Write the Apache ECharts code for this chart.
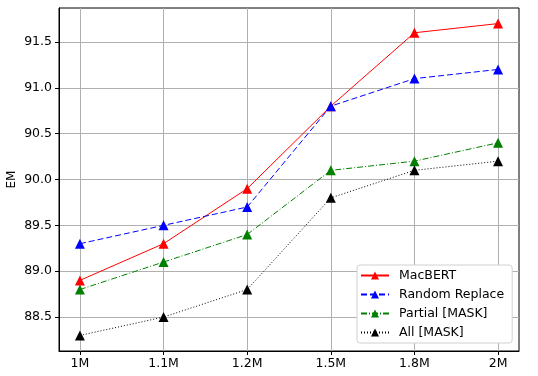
<!DOCTYPE html>
<html>
<head>
<meta charset="utf-8">
<script src="https://cdn.jsdelivr.net/npm/echarts@6/dist/echarts.min.js"></script>
<style>
  html, body { margin:0; padding:0; background:#fff; }
  #chart { width:538px; height:376px; }
</style>
</head>
<body>
<div id="chart"></div>
<script>
// data
var categories = ['1M', '1.1M', '1.2M', '1.5M', '1.8M', '2M'];
var macbert = [88.9, 89.3, 89.9, 90.8, 91.6, 91.7];
var randomReplace = [89.3, 89.5, 89.7, 90.8, 91.1, 91.2];
var partialMask = [88.8, 89.1, 89.4, 90.1, 90.2, 90.4];
var allMask = [88.3, 88.5, 88.8, 89.8, 90.1, 90.2];
var yTicks = [88.5, 89.0, 89.5, 90.0, 90.5, 91.0, 91.5];

var xIdx = categories.map(function (c, i) { return i; });
var font = 'DejaVu Sans';

function pairs(arr) {
  return arr.map(function (v, i) { return [i, v]; });
}

function mkSeries(name, arr, color, dash) {
  return {
    name: name,
    type: 'line',
    data: pairs(arr),
    symbol: 'triangle',
    symbolSize: 10,
    itemStyle: { color: color },
    lineStyle: { color: color, width: 1, type: dash },
    emphasis: { disabled: true },
    z: 3
  };
}

var myChart = echarts.init(document.getElementById('chart'));
myChart.setOption({
  animation: false,
  textStyle: { fontFamily: font },
  grid: {
    left: 59, right: 19, top: 8, bottom: 25,
    outerBoundsMode: 'none',
    containLabel: false,
    show: true, borderColor: '#000', borderWidth: 1
  },
  legend: {
    orient: 'vertical',
    left: 357, top: 265,
    padding: [4, 8, 4, 3],
    itemGap: 6,
    itemWidth: 28,
    itemHeight: 10,
    backgroundColor: '#fff',
    borderColor: '#d0d0d0',
    borderWidth: 1,
    borderRadius: 3,
    textStyle: { fontFamily: font, fontSize: 12.5, color: '#000', padding: [0, 0, 0, 5] },
    data: ['MacBERT', 'Random Replace', 'Partial [MASK]', 'All [MASK]']
  },
  xAxis: {
    type: 'value',
    min: -0.25,
    max: 5.25,
    axisLine: { show: true, onZero: false, lineStyle: { color: '#000' } },
    axisTick: { show: true, customValues: xIdx, length: 4, lineStyle: { color: '#000' } },
    axisLabel: {
      customValues: xIdx,
      fontFamily: font, fontSize: 12.5, color: '#000', margin: 6,
      formatter: function (v) { return categories[Math.round(v)]; }
    },
    splitLine: { show: true, lineStyle: { color: '#b0b0b0', width: 1 } }
  },
  yAxis: {
    type: 'value',
    min: 88.13,
    max: 91.87,
    name: 'EM',
    nameLocation: 'middle',
    nameRotate: 90,
    nameGap: 41,
    nameMoveOverlap: false,
    nameTextStyle: { fontFamily: font, fontSize: 12, color: '#000' },
    axisLine: { show: true, onZero: false, lineStyle: { color: '#000' } },
    axisTick: { show: true, customValues: yTicks, length: 4, lineStyle: { color: '#000' } },
    axisLabel: {
      customValues: yTicks,
      fontFamily: font, fontSize: 12.5, color: '#000', margin: 7,
      formatter: function (v) { return v.toFixed(1); }
    },
    splitLine: { show: true, lineStyle: { color: '#b0b0b0', width: 1 } }
  },
  series: [
    mkSeries('MacBERT', macbert, '#ff0000', 'solid'),
    mkSeries('Random Replace', randomReplace, '#0000ff', [6, 3]),
    mkSeries('Partial [MASK]', partialMask, '#008000', [6, 2, 1, 2]),
    mkSeries('All [MASK]', allMask, '#000000', [1, 2])
  ]
});
</script>
</body>
</html>
